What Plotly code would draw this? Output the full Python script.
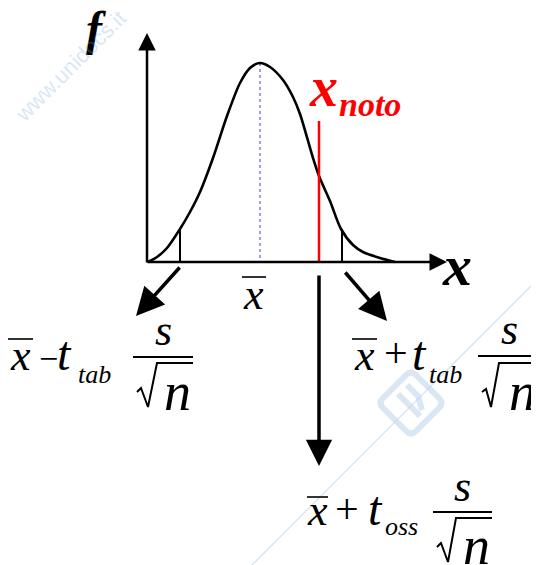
import plotly.graph_objects as go

W, H = 539, 565
PAD = 8  # default page margin around the figure
SERIF = "Liberation Serif"

# bell curve, points (pixel space, y grows downwards)
curve_x = [148, 157, 167, 180, 190, 200, 213, 227, 240, 250, 260, 270,
           283, 293, 300, 313, 319, 330, 341, 353, 363, 380, 395]
curve_y = [262, 257, 248, 229, 212, 192, 158, 116, 83, 68, 63, 67,
           80, 97, 114, 158, 176, 201, 229, 245, 252, 258, 262]

axis_y = 262
mean_x, mean_top = 260, 63
tab_x = [180, 342]
tab_top = 229
noto_x, noto_top = 319, 121

# arrows: (tail x, tail y, tip x, tip y, width, size)
arrows = [
    (147, 264, 147, 33, 2.5, 1.4),    # f axis
    (146, axis_y, 447, axis_y, 2.5, 1.4),  # x axis
    (181, 266, 136, 316, 3.5, 1.6),   # to x - t_tab s/sqrt(n)
    (344, 271, 387, 321, 3.5, 1.6),   # to x + t_tab s/sqrt(n)
    (319, 274, 319, 466, 3.5, 1.5),   # to x + t_oss s/sqrt(n)
]

# bold italic labels: (text, x, y, size, colour)
labels = [
    ("f", 96, 28, 48, "black"),
    ("x", 457, 265, 58, "black"),
    ("x", 323, 87, 56, "red"),
    ("noto", 370, 104, 34, "red"),
]

# italic formula symbols: (text, x, y, size)
symbols = [
    ("x", 253, 294, 44),
    # left formula
    ("x", 20, 355, 44),
    ("t", 64, 353, 48),
    ("tab", 94, 374, 26),
    ("s", 163, 330, 44),
    ("n", 177, 392, 54),
    # right formula
    ("x", 364, 355, 44),
    ("t", 419, 353, 48),
    ("tab", 445, 374, 26),
    ("s", 509, 329, 44),
    ("n", 522, 392, 54),
    # bottom formula
    ("x", 317, 510, 44),
    ("t", 375, 508, 48),
    ("oss", 401, 526, 26),
    ("s", 462, 486, 44),
    ("n", 476, 546, 54),
]
# upright operators: (text, x, y, size)
operators = [("\u2212", 48, 358, 34), ("+", 396, 353, 42), ("+", 347, 509, 42)]

# overbars of x, fraction bars (x0, x1, y)
overbars = [(242, 266, 277), (8, 33, 339), (352, 377, 339), (307, 328, 497)]
frac_bars = [(133, 193, 357), (478, 539, 356), (433, 492, 512)]

# radical signs: list of (x, y) vertices
radicals = [
    [(137, 392), (141, 388), (148, 407), (157, 363), (193, 363)],
    [(482, 392), (486, 389), (491, 407), (499, 363), (539, 363)],
    [(437, 547), (441, 543), (448, 562), (456, 518), (492, 518)],
]

fig = go.Figure()

# watermark line + logo (faint)
WM = "rgba(185,212,236,0.55)"
fig.add_trace(go.Scatter(x=[252, 539], y=[565, 278], mode="lines",
                         line=dict(color="rgba(150,190,225,0.4)", width=1.3),
                         hoverinfo="skip"))
fig.add_shape(type="path",
              path="M 383 398 Q 378 403 383 408 L 406 431 Q 411 436 416 431 "
                   "L 439 408 Q 444 403 439 398 L 416 375 Q 411 370 406 375 Z",
              line=dict(color=WM, width=6), xref="x", yref="y")
fig.add_trace(go.Scatter(x=[398, 420, None, 407, 418, 422], y=[394, 416, None, 385, 396, 410],
                         mode="lines", line=dict(color=WM, width=6),
                         hoverinfo="skip"))

# mean dotted line
fig.add_trace(go.Scatter(x=[mean_x, mean_x], y=[mean_top, axis_y], mode="lines",
                         line=dict(color="#3a3aff", width=1, dash="dot")))
# t_tab vertical marks
for tx in tab_x:
    fig.add_trace(go.Scatter(x=[tx, tx], y=[tab_top, axis_y], mode="lines",
                             line=dict(color="black", width=2)))
# curve
fig.add_trace(go.Scatter(x=curve_x, y=curve_y, mode="lines",
                         line=dict(color="black", width=2.6, shape="spline", smoothing=0.8)))
# x noto line
fig.add_trace(go.Scatter(x=[noto_x, noto_x], y=[noto_top, axis_y], mode="lines",
                         line=dict(color="red", width=2.5)))

for x0, x1, y in overbars:
    fig.add_trace(go.Scatter(x=[x0, x1], y=[y, y], mode="lines",
                             line=dict(color="black", width=1.6)))
for x0, x1, y in frac_bars:
    fig.add_trace(go.Scatter(x=[x0, x1], y=[y, y], mode="lines",
                             line=dict(color="black", width=2)))
for pts in radicals:
    fig.add_trace(go.Scatter(x=[p[0] for p in pts], y=[p[1] for p in pts], mode="lines",
                             line=dict(color="black", width=2)))

for tx, ty, hx, hy, w, s in arrows:
    fig.add_annotation(x=hx, y=hy, ax=tx, ay=ty, xref="x", yref="y",
                       axref="x", ayref="y", text="", showarrow=True,
                       arrowhead=2, arrowwidth=w, arrowsize=s, arrowcolor="black")

for t, x, y, size, col in labels:
    fig.add_annotation(x=x, y=y, text=f"<b><i>{t}</i></b>", showarrow=False,
                       xref="x", yref="y", xanchor="center", yanchor="middle",
                       font=dict(family=SERIF, size=size, color=col))
for t, x, y, size in symbols:
    fig.add_annotation(x=x, y=y, text=f"<i>{t}</i>", showarrow=False,
                       xref="x", yref="y", xanchor="center", yanchor="middle",
                       font=dict(family=SERIF, size=size, color="black"))
for t, x, y, size in operators:
    fig.add_annotation(x=x, y=y, text=t, showarrow=False,
                       xref="x", yref="y", xanchor="center", yanchor="middle",
                       font=dict(family=SERIF, size=size, color="black"))

fig.add_annotation(x=70, y=66, text="www.unidocs.it", showarrow=False,
                   xref="x", yref="y", textangle=-45,
                   font=dict(family="Liberation Sans", size=22,
                             color="rgba(120,170,220,0.3)"))

# the page adds an 8px margin, so the figure is shrunk and the ranges shifted
fig.update_xaxes(range=[PAD, W], visible=False, fixedrange=True)
fig.update_yaxes(range=[H, PAD], visible=False, fixedrange=True)
fig.update_layout(width=W - PAD, height=H - PAD, margin=dict(l=0, r=0, t=0, b=0),
                  paper_bgcolor="white", plot_bgcolor="white",
                  showlegend=False)

fig.write_html("out.html")
